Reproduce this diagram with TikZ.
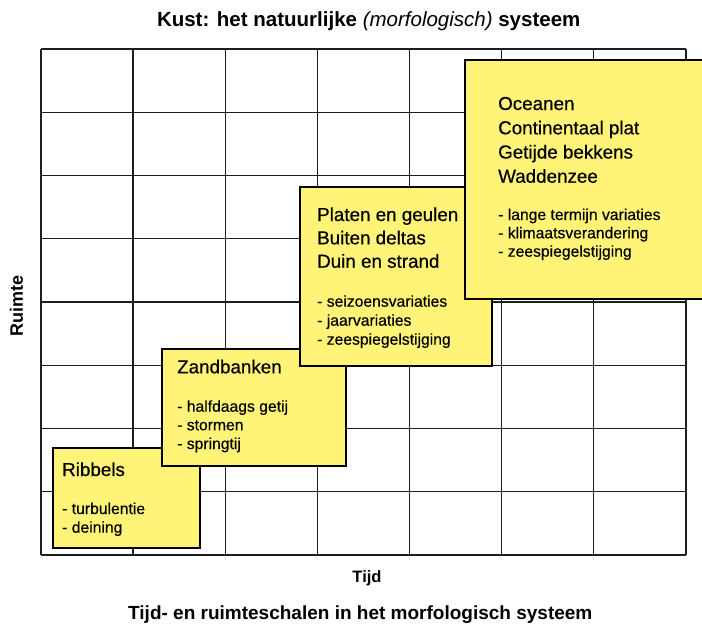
\documentclass[tikz,border=0pt]{standalone}
\usepackage{fontspec}
\setmainfont{Liberation Sans}
\newfontfamily\medfont{Liberation Sans}[FakeBold=0.5]
\definecolor{boxyellow}{RGB}{255,244,120}
\definecolor{gridline}{RGB}{30,30,30}
\tikzset{
  gridstyle/.style={draw=gridline, line width=1.3pt},
  yellowbox/.style={draw=black, fill=boxyellow, line width=2pt, anchor=north west, inner sep=0pt, rectangle},
  headtxt/.style={anchor=base west, inner sep=0pt, font=\medfont\fontsize{18.8}{22}\selectfont},
  listtxt/.style={anchor=base west, inner sep=0pt, font=\medfont\fontsize{15.7}{18}\selectfont},
  captxt/.style={anchor=base, inner sep=0pt}
}
\begin{document}
\begin{tikzpicture}[x=1pt, y=-1pt]
\useasboundingbox (0,0) rectangle (702,624);
% grid
\foreach \i in {0,...,7} {
  \draw[gridstyle] ({41+92.14*\i},49) -- ({41+92.14*\i},555);
}
\foreach \j in {0,...,8} {
  \draw[gridstyle] (41,{49+63.25*\j}) -- (686,{49+63.25*\j});
}
% titles
\node[captxt, font=\fontsize{20.5}{24}\selectfont\bfseries] (title) at (368.7,26.5)
  {Kust: het natuurlijke {\mdseries\itshape (morfologisch)} systeem};
\node[captxt, font=\fontsize{16.5}{20}\selectfont\bfseries] (tijd) at (367,582.5) {Tijd};
\node[captxt, font=\fontsize{19}{22}\selectfont\bfseries] (caption) at (360.3,619)
  {Tijd- en ruimteschalen in het morfologisch systeem};
\node[captxt, rotate=90, font=\fontsize{18}{22}\selectfont\bfseries] (ruimte) at (23,305.5) {Ruimte};
% boxes
\node[yellowbox, minimum width=147pt, minimum height=100pt] (ribbels) at (52,447) {};
\node[headtxt] (r1) at (62,476) {Ribbels};
\node[listtxt] (r2) at (62,514) {- turbulentie};
\node[listtxt] (r3) at (62,532.7) {- deining};

\node[yellowbox, minimum width=184pt, minimum height=117pt] (zand) at (161,348) {};
\node[headtxt] (z1) at (177,373.3) {Zandbanken};
\node[listtxt] (z2) at (177,411.7) {- halfdaags getij};
\node[listtxt] (z3) at (177,430.3) {- stormen};
\node[listtxt] (z4) at (177,449) {- springtij};

\node[yellowbox, minimum width=192pt, minimum height=179pt] (platen) at (299,186) {};
\node[headtxt] (p1) at (317,221) {Platen en geulen};
\node[headtxt] (p2) at (317,244.3) {Buiten deltas};
\node[headtxt] (p3) at (317,267.7) {Duin en strand};
\node[listtxt] (p4) at (317,306.7) {- seizoensvariaties};
\node[listtxt] (p5) at (317,325.7) {- jaarvariaties};
\node[listtxt] (p6) at (317,344.7) {- zeespiegelstijging};

\node[yellowbox, minimum width=242pt, minimum height=239pt] (oceaan) at (464,59) {};
\node[headtxt] (o1) at (498,110) {Oceanen};
\node[headtxt] (o2) at (498,134.3) {Continentaal plat};
\node[headtxt] (o3) at (498,158.5) {Getijde bekkens};
\node[headtxt] (o4) at (498,182.7) {Waddenzee};
\node[listtxt] (o5) at (498,220) {- lange termijn variaties};
\node[listtxt] (o6) at (498,238.3) {- klimaatsverandering};
\node[listtxt] (o7) at (498,256.7) {- zeespiegelstijging};
\end{tikzpicture}
\end{document}
